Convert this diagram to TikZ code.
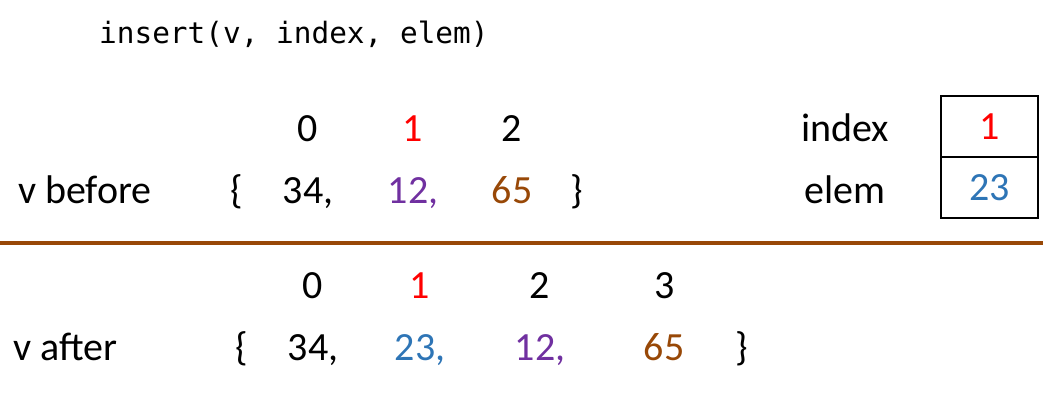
\documentclass[tikz,border=0pt]{standalone}
\usepackage{fontspec}
\setmainfont{Carlito}
\setmonofont{DejaVu Sans Mono}
\definecolor{idxred}{HTML}{FF0000}
\definecolor{elemblue}{HTML}{2E75B6}
\definecolor{valpurple}{HTML}{7030A0}
\definecolor{valbrown}{HTML}{984807}
\begin{document}
\begin{tikzpicture}[x=1pt, y=-1pt, every node/.style={font=\fontsize{40}{48}\selectfont,
  inner sep=0pt, anchor=base}, valbox/.style={draw=black, line width=1.2pt,
  minimum width=97pt, minimum height=61pt, anchor=center} ]
\useasboundingbox (0,0) rectangle (1045,405);

% Call
\node[anchor=base west, font=\ttfamily\fontsize{29.4}{34}\selectfont] (call) at
  (99,43) {insert(v, index, elem)};

% Before
\node[anchor=base west] (before) at (18,203) {v before};
\foreach \x/\n/\c [count=\i from 0] in {308/0/black, 413/1/idxred, 512/2/black}
  { \node[text=\c] (bi\i) at (\x,141) {\n}; }
\foreach \x/\n/\c [count=\i] in {237/\{/black, 308/{34,}/black,
  413/{12,}/valpurple, 512/65/valbrown, 577/\}/black} { \node[text=\c] (bv\i)
  at (\x,203) {\n}; }

% Arguments
\node (index) at (845,141) {index}; \node (elem) at (845,203) {elem};
\node[valbox, text=idxred] (indexbox) at (989.5,126.5) {1};
\node[valbox, text=elemblue] (elembox) at (989.5,187.5) {23};

% Separator
\coordinate (sepL) at (0,243); \coordinate (sepR) at (1043,243);
\draw[valbrown, line width=4pt] (sepL) -- (sepR);

% After
\node[anchor=base west] (after) at (13,360) {v after};
\foreach \x/\n/\c [count=\i from 0] in {313/0/black, 420/1/idxred, 540/2/black,
  665/3/black} { \node[text=\c] (ai\i) at (\x,298) {\n}; }
\foreach \x/\n/\c [count=\i] in {242/\{/black, 313/{34,}/black,
  420/{23,}/elemblue, 540/{12,}/valpurple, 664/65/valbrown, 742/\}/black} {
  \node[text=\c] (av\i) at (\x,360) {\n}; }

\end{tikzpicture}
\end{document}
